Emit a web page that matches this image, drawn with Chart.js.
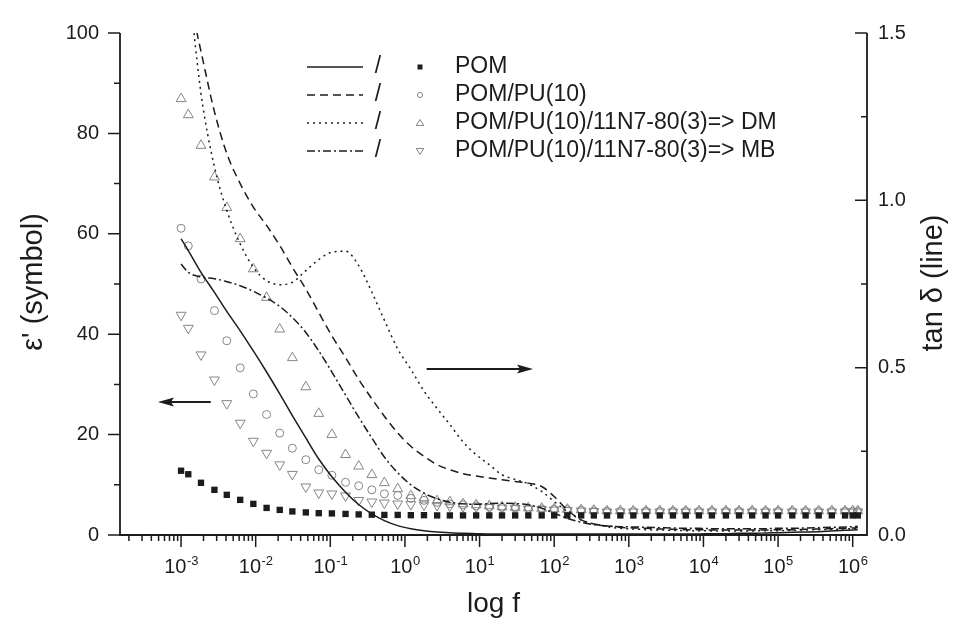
<!DOCTYPE html>
<html>
<head>
	<meta charset="utf-8">
	<script src="https://cdn.jsdelivr.net/npm/chart.js@4.4.1/dist/chart.umd.min.js"></script>
	<style>
		body { margin: 0; background: #fff; }
		#wrapper { width: 959px; height: 621px; }
	</style>
</head>
<body>
	<div id="wrapper"><canvas id="myChart" width="959" height="621"></canvas></div>
	<script>
var freq = [0.001, 0.00125, 0.00185, 0.0028, 0.0041, 0.0062, 0.0093, 0.014, 0.021, 0.031,
	0.047, 0.07, 0.105, 0.16, 0.24, 0.36, 0.53, 0.8, 1.2, 1.8,
	2.7, 4, 6, 9, 13.5, 20, 30, 45, 68, 100,
	150, 230, 340, 510, 770, 1150, 1700, 2600, 3900, 5800,
	8700, 13000, 20000, 30000, 45000, 68000, 100000, 155000, 234000, 350000,
	525000, 790000, 1000000, 1170000];

// epsilon' (symbols, left axis)
var epsPOM = [12.8, 12.1, 10.4, 9.0, 8.0, 7.0, 6.2, 5.4, 5.0, 4.7,
	4.5, 4.35, 4.3, 4.2, 4.1, 4.05, 4.0, 4.0, 3.95, 3.95,
	3.9, 3.9, 3.9, 3.9, 3.9, 3.9, 3.9, 3.9, 3.9, 3.9,
	3.9, 3.9, 3.9, 3.9, 3.9, 3.9, 3.9, 3.9, 3.9, 3.9,
	3.9, 3.9, 3.9, 3.9, 3.9, 3.9, 3.9, 3.9, 3.9, 3.9,
	3.9, 3.9, 3.9, 3.9];
var epsPU = [61.1, 57.6, 51.0, 44.7, 38.7, 33.3, 28.1, 24.0, 20.3, 17.3,
	15.0, 13.0, 11.9, 10.5, 9.8, 9.0, 8.2, 7.9, 7.3, 6.9,
	6.5, 6.2, 6.0, 5.8, 5.6, 5.5, 5.4, 5.3, 5.2, 5.1,
	5.0, 4.9, 4.8, 4.7, 4.7, 4.7, 4.7, 4.7, 4.7, 4.7,
	4.7, 4.7, 4.7, 4.7, 4.7, 4.7, 4.7, 4.7, 4.7, 4.7,
	4.7, 4.7, 4.7, 4.7];
var epsDM = [86.9, 83.7, 77.6, 71.3, 65.2, 59.0, 53.0, 47.3, 41.0, 35.3,
	29.5, 24.2, 20.0, 16.0, 13.7, 12.0, 10.4, 9.2, 7.8, 7.4,
	6.8, 6.6, 6.2, 6.0, 5.8, 5.6, 5.5, 5.4, 5.3, 5.2,
	5.1, 5.0, 4.9, 4.8, 4.8, 4.8, 4.8, 4.8, 4.8, 4.8,
	4.8, 4.8, 4.8, 4.8, 4.8, 4.8, 4.8, 4.8, 4.8, 4.8,
	4.8, 4.8, 4.8, 4.8];
var epsMB = [43.8, 41.2, 35.9, 30.9, 26.2, 22.3, 18.7, 16.3, 14.0, 12.1,
	9.6, 8.4, 8.2, 7.8, 6.9, 6.6, 6.4, 6.2, 6.1, 6.0,
	5.9, 5.8, 5.7, 5.6, 5.5, 5.4, 5.3, 5.2, 5.1, 5.0,
	4.9, 4.8, 4.7, 4.6, 4.6, 4.6, 4.6, 4.6, 4.6, 4.6,
	4.6, 4.6, 4.6, 4.6, 4.6, 4.6, 4.6, 4.6, 4.6, 4.6,
	4.6, 4.6, 4.6, 4.6];

// tan delta (lines, right axis)
var tanPOM = [0.885, 0.85, 0.785, 0.725, 0.668, 0.61, 0.55, 0.487, 0.422, 0.357,
	0.29, 0.227, 0.174, 0.128, 0.091, 0.063, 0.043, 0.028, 0.019, 0.013,
	0.009, 0.007, 0.005, 0.004, 0.003, 0.003, 0.003, 0.003, 0.003, 0.003,
	0.003, 0.003, 0.003, 0.003, 0.003, 0.003, 0.003, 0.003, 0.003, 0.003,
	0.003, 0.004, 0.004, 0.005, 0.005, 0.006, 0.007, 0.008, 0.009, 0.010,
	0.012, 0.014, 0.015, 0.016];
var tanPU = [null, 1.62, 1.445, 1.265, 1.14, 1.05, 0.98, 0.925, 0.865, 0.80,
	0.735, 0.665, 0.595, 0.53, 0.465, 0.407, 0.355, 0.305, 0.265, 0.235,
	0.21, 0.195, 0.183, 0.176, 0.17, 0.165, 0.16, 0.155, 0.145, 0.115,
	0.075, 0.045, 0.033, 0.027, 0.023, 0.021, 0.02, 0.018, 0.017, 0.016,
	0.016, 0.015, 0.015, 0.015, 0.015, 0.015, 0.016, 0.016, 0.017, 0.018,
	0.019, 0.02, 0.021, 0.022];
var tanDM = [null, 1.66, 1.32, 1.10, 0.97, 0.87, 0.80, 0.76, 0.748, 0.755,
	0.79, 0.823, 0.845, 0.848, 0.805, 0.726, 0.642, 0.556, 0.495, 0.43,
	0.378, 0.33, 0.278, 0.24, 0.21, 0.18, 0.166, 0.153, 0.13, 0.10,
	0.07, 0.045, 0.033, 0.025, 0.02, 0.018, 0.016, 0.015, 0.014, 0.013,
	0.013, 0.012, 0.012, 0.012, 0.012, 0.013, 0.013, 0.014, 0.015, 0.016,
	0.017, 0.018, 0.019, 0.02];
var tanMB = [0.81, 0.785, 0.771, 0.766, 0.757, 0.745, 0.728, 0.708, 0.683, 0.65,
	0.605, 0.55, 0.487, 0.418, 0.352, 0.29, 0.233, 0.186, 0.15, 0.125,
	0.108, 0.098, 0.093, 0.092, 0.094, 0.095, 0.094, 0.09, 0.08, 0.065,
	0.05, 0.038, 0.031, 0.027, 0.025, 0.024, 0.023, 0.022, 0.021, 0.02,
	0.02, 0.019, 0.019, 0.019, 0.019, 0.019, 0.02, 0.02, 0.021, 0.022,
	0.023, 0.024, 0.025, 0.026];

var names = ['POM', 'POM/PU(10)', 'POM/PU(10)/11N7-80(3)=> DM', 'POM/PU(10)/11N7-80(3)=> MB'];
var decades = [-3, -2, -1, 0, 1, 2, 3, 4, 5, 6];   // x labels 10^n
var epsTicks = [0, 20, 40, 60, 80, 100];
var tanTicks = [0, 0.5, 1.0, 1.5];
// the two arrows: which axis they point to, at what value, from/to frequency
var arrowSpecs = [
	{axis: 'y', value: 26.5, from: 0.0025, to: 0.00049},
	{axis: 'y1', value: 0.496, from: 1.95, to: 52}
];

var ink = '#1c1c1c';
var grey = '#858585';
var fam = "'Liberation Sans', Arial, Helvetica, sans-serif";

function pts(vals) {
	return freq.map(function(f, i) { return {x: f, y: vals[i]}; });
}

var symbolSets = [
	{label: names[0], data: pts(epsPOM), yAxisID: 'y', pointStyle: 'rect', pointRadius: 4.5, backgroundColor: ink, borderColor: ink, borderWidth: 0},
	{label: names[1], data: pts(epsPU), yAxisID: 'y', pointStyle: 'circle', pointRadius: 4, backgroundColor: 'rgba(0,0,0,0)', borderColor: grey, borderWidth: 1},
	{label: names[2], data: pts(epsDM), yAxisID: 'y', pointStyle: 'triangle', pointRadius: 5.7, backgroundColor: 'rgba(0,0,0,0)', borderColor: grey, borderWidth: 1},
	{label: names[3], data: pts(epsMB), yAxisID: 'y', pointStyle: 'triangle', rotation: 180, pointRadius: 5.7, backgroundColor: 'rgba(0,0,0,0)', borderColor: grey, borderWidth: 1}
];
symbolSets.forEach(function(d) { d.showLine = false; d.order = 2; });

var dashes = [[], [8, 5], [2, 4], [8, 3, 2, 3]];
var lineSets = [tanPOM, tanPU, tanDM, tanMB].map(function(vals, i) {
	return {
		label: names[i] + ' tan δ', data: pts(vals), yAxisID: 'y1', showLine: true,
		borderColor: ink, borderWidth: 1.5, borderDash: dashes[i], pointRadius: 0,
		cubicInterpolationMode: 'monotone', order: 1
	};
});

// axes, minor ticks, superscript labels, titles, arrows and legend
var decor = {
	id: 'decor',
	afterDraw: function(chart) {
		var ctx = chart.ctx, a = chart.chartArea;
		var xs = chart.scales.x, yl = chart.scales.y, yr = chart.scales.y1;
		ctx.save();
		ctx.strokeStyle = ink;
		ctx.fillStyle = ink;
		ctx.lineWidth = 1.8;
		ctx.beginPath();
		ctx.moveTo(a.left, a.top); ctx.lineTo(a.left, a.bottom);
		ctx.lineTo(a.right, a.bottom); ctx.lineTo(a.right, a.top);
		ctx.stroke();

		ctx.lineWidth = 1.5;
		ctx.beginPath();
		for (var e = -4; e <= 6; e++) {
			for (var m = 1; m <= 9; m++) {
				var px = xs.getPixelForValue(m * Math.pow(10, e));
				if (px < a.left + 2 || px > a.right + 0.5) continue;
				ctx.moveTo(px, a.bottom); ctx.lineTo(px, a.bottom + (m === 1 ? 12 : 6));
			}
		}
		for (var v = 0; v <= 100; v += 10) {
			var py = yl.getPixelForValue(v);
			ctx.moveTo(a.left, py); ctx.lineTo(a.left - (v % 20 === 0 ? 12 : 6), py);
		}
		for (var k = 0; k <= 6; k++) {
			var py2 = yr.getPixelForValue(k * 0.25);
			ctx.moveTo(a.right, py2); ctx.lineTo(a.right - (k % 2 === 0 ? 12 : 6), py2);
		}
		ctx.stroke();

		// 10^n labels
		ctx.textBaseline = 'alphabetic';
		ctx.textAlign = 'left';
		decades.forEach(function(n) {
			var px = xs.getPixelForValue(Math.pow(10, n));
			ctx.font = '20px ' + fam;
			var w1 = ctx.measureText('10').width;
			ctx.font = '13px ' + fam;
			var w2 = ctx.measureText(String(n)).width;
			var x0 = px - (w1 + w2) / 2;
			ctx.font = '20px ' + fam;
			ctx.fillText('10', x0, 572.5);
			ctx.font = '13px ' + fam;
			ctx.fillText(String(n), x0 + w1 + 0.5, 565);
		});

		// axis titles
		ctx.textAlign = 'center';
		ctx.font = '28px ' + fam;
		ctx.fillText('log f', (a.left + a.right) / 2, 612);
		ctx.textBaseline = 'middle';
		ctx.font = '29px ' + fam;
		ctx.save(); ctx.translate(34, 282); ctx.rotate(-Math.PI / 2);
		ctx.fillText("ε' (symbol)", 0, 0); ctx.restore();
		ctx.save(); ctx.translate(934, 283); ctx.rotate(-Math.PI / 2);
		ctx.fillText('tan δ (line)', 0, 0); ctx.restore();

		// arrows
		arrowSpecs.forEach(function(s) {
			var sc = s.axis === 'y' ? yl : yr;
			var y = sc.getPixelForValue(s.value);
			var x1 = xs.getPixelForValue(s.from), x2 = xs.getPixelForValue(s.to);
			var dir = x2 > x1 ? 1 : -1;
			ctx.lineWidth = 2;
			ctx.beginPath(); ctx.moveTo(x1, y); ctx.lineTo(x2 - dir * 10, y); ctx.stroke();
			ctx.beginPath();
			ctx.moveTo(x2, y);
			ctx.lineTo(x2 - dir * 16, y - 4.5);
			ctx.lineTo(x2 - dir * 13, y);
			ctx.lineTo(x2 - dir * 16, y + 4.5);
			ctx.closePath(); ctx.fill();
		});

		// legend: line / symbol  name
		for (var i = 0; i < 4; i++) {
			var ly = 67 + 28 * i;
			ctx.lineWidth = 1.5;
			ctx.setLineDash(dashes[i]);
			ctx.beginPath(); ctx.moveTo(307, ly); ctx.lineTo(363, ly); ctx.stroke();
			ctx.setLineDash([]);
			ctx.font = '23px ' + fam;
			ctx.textAlign = 'center';
			ctx.fillStyle = ink;
			ctx.fillText('/', 378, ly);
			ctx.textAlign = 'left';
			ctx.fillText(names[i], 455, ly);
			ctx.lineWidth = 1;
			ctx.strokeStyle = grey;
			ctx.beginPath();
			if (i === 0) {
				ctx.fillRect(417.5, ly - 2.5, 5, 5);
			} else if (i === 1) {
				ctx.arc(420, ly, 2.6, 0, Math.PI * 2); ctx.stroke();
			} else if (i === 2) {
				ctx.moveTo(420, ly - 3.5); ctx.lineTo(423.8, ly + 2.5); ctx.lineTo(416.2, ly + 2.5); ctx.closePath(); ctx.stroke();
			} else {
				ctx.moveTo(420, ly + 3.5); ctx.lineTo(423.8, ly - 2.5); ctx.lineTo(416.2, ly - 2.5); ctx.closePath(); ctx.stroke();
			}
			ctx.strokeStyle = ink;
		}
		ctx.restore();
	}
};

var ctx = document.getElementById('myChart');
var myChart = new Chart(ctx, {
	type: 'scatter',
	data: { datasets: lineSets.concat(symbolSets) },
	options: {
		responsive: false,
		animation: false,
		events: [],
		layout: { padding: { top: 23, left: 0, right: 0, bottom: 0 }, autoPadding: false },
		plugins: { legend: { display: false }, tooltip: { enabled: false } },
		scales: {
			x: {
				type: 'logarithmic', min: 1.52e-4, max: 1.555e6,
				grid: { display: false, drawTicks: false }, border: { display: false },
				ticks: { display: false },
				afterFit: function(s) { s.height = 86; }
			},
			y: {
				position: 'left', min: 0, max: 100,
				grid: { display: false, drawTicks: false }, border: { display: false },
				afterBuildTicks: function(s) { s.ticks = epsTicks.map(function(v) { return {value: v}; }); },
				ticks: { padding: 21, color: ink, font: { family: fam, size: 20 } },
				afterFit: function(s) { s.width = 120; }
			},
			y1: {
				position: 'right', min: 0, max: 1.5,
				grid: { display: false, drawTicks: false }, border: { display: false },
				afterBuildTicks: function(s) { s.ticks = tanTicks.map(function(v) { return {value: v}; }); },
				ticks: { padding: 11, color: ink, font: { family: fam, size: 20 },
					callback: function(v) { return Number(v).toFixed(1); } },
				afterFit: function(s) { s.width = 92; }
			}
		}
	},
	plugins: [decor]
});
	</script>
</body>
</html>
